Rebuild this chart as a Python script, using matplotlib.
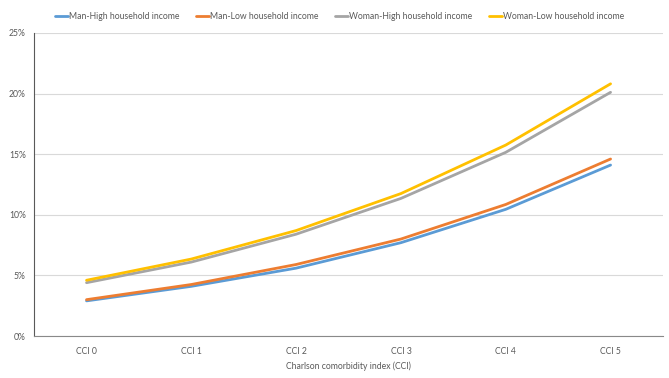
import matplotlib
matplotlib.use("Agg")
import matplotlib.pyplot as plt
from matplotlib.ticker import PercentFormatter

plt.rcParams['font.family'] = ['Lato', 'DejaVu Sans']

categories = ["CCI 0", "CCI 1", "CCI 2", "CCI 3", "CCI 4", "CCI 5"]
man_high = [2.9, 4.1, 5.6, 7.7, 10.45, 14.1]
man_low = [3.0, 4.25, 5.9, 8.0, 10.85, 14.6]
woman_high = [4.4, 6.1, 8.4, 11.35, 15.15, 20.1]
woman_low = [4.6, 6.35, 8.7, 11.75, 15.75, 20.8]
series_names = ["Man-High household income", "Man-Low household income",
                "Woman-High household income", "Woman-Low household income"]
colors = ["#5B9BD5", "#ED7D31", "#A5A5A5", "#FFC000"]

fig = plt.figure(figsize=(6.69, 3.78), dpi=100)
ax = fig.add_axes([0.051, 0.111, 0.940, 0.802])

x = list(range(len(categories)))
for vals, name, c in zip([man_high, man_low, woman_high, woman_low], series_names, colors):
    ax.plot(x, vals, color=c, lw=2.0, label=name, solid_capstyle='round')

ax.set_xlim(-0.5, len(categories) - 0.5)
ax.set_ylim(0, 25)
ax.set_yticks([0, 5, 10, 15, 20, 25])
ax.yaxis.set_major_formatter(PercentFormatter(decimals=0))
ax.set_xticks(x)
ax.set_xticklabels(categories)
ax.grid(axis='y', color='#D9D9D9', lw=0.8)
ax.set_axisbelow(True)
for s in ['top', 'right']:
    ax.spines[s].set_visible(False)
ax.spines['left'].set_color('#595959')
ax.spines['left'].set_linewidth(0.8)
ax.spines['bottom'].set_color('#898989')
ax.spines['bottom'].set_linewidth(0.8)
ax.tick_params(axis='both', length=0, labelsize=6.2, colors='#595959', pad=8)
ax.tick_params(axis='y', pad=6)
ax.set_xlabel("Charlson comorbidity index (CCI)", fontsize=6.2, color='#595959', labelpad=4)

fig.legend(loc='upper center', bbox_to_anchor=(0.508, 0.99), ncol=4, frameon=False,
           fontsize=6.2, handlelength=1.5, handletextpad=0.15, columnspacing=1.9,
           labelcolor='#595959')

fig.savefig("out.png", dpi=100)
